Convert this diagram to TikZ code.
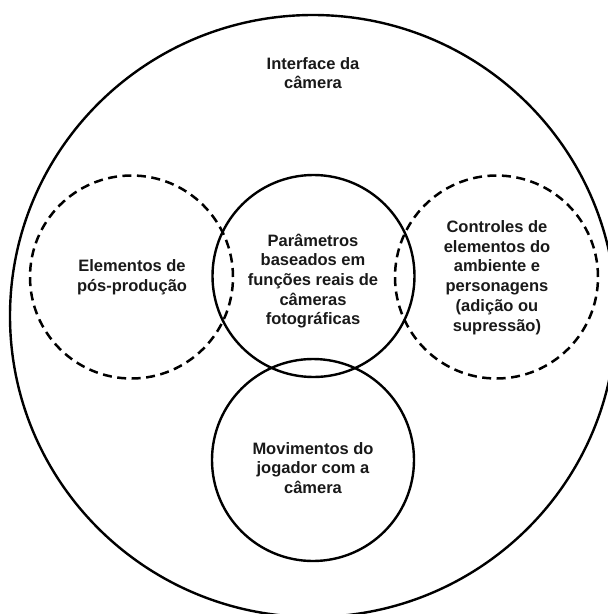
\documentclass[tikz,border=0pt]{standalone}
\usepackage{fontspec}
\setmainfont{Liberation Sans}
\begin{document}
\begin{tikzpicture}[x=1pt,y=-1pt,
  solidcirc/.style={draw=black, line width=2.4pt, circle, minimum size=202pt, inner sep=0pt},
  dashcirc/.style={draw=black, line width=2.5pt, circle, minimum size=203pt, inner sep=0pt, dash pattern=on 9pt off 5.5pt},
  lbl/.style={align=center, font=\bfseries\fontsize{16.5}{19.7}\selectfont, inner sep=0pt, text=black!90}]
\useasboundingbox (0,0) rectangle (608,614);
\clip (0,0) rectangle (608,614);
% outer boundary
\draw[line width=2.4pt] (313,316) ellipse [x radius=303, y radius=301];
% circles
\node[dashcirc] (post) at (131.5,277) {};
\node[dashcirc] (ctrl) at (496.5,277) {};
\node[solidcirc] (param) at (313.5,276) {};
\node[solidcirc] (mov) at (313,460) {};
% labels
\node[lbl] (tint) at (313,73) {Interface da\\câmera};
\node[lbl] (tpost) at (132,277.5) {Elementos de\\pós-produção};
\node[lbl] (tparam) at (313,281) {Parâmetros\\baseados em\\funções reais de\\câmeras\\fotográficas};
\node[lbl] (tctrl) at (497,277.5) {Controles de\\elementos do\\ambiente e\\personagens\\(adição ou\\supressão)};
\node[lbl] (tmov) at (313,468) {Movimentos do\\jogador com a\\câmera};
\end{tikzpicture}
\end{document}
